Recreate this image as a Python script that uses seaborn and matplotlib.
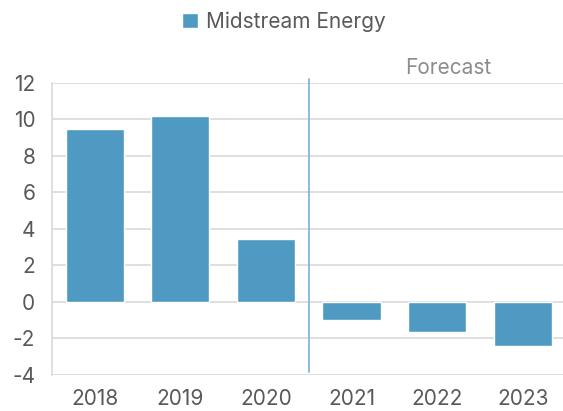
import matplotlib
matplotlib.use("Agg")
import matplotlib.pyplot as plt
import seaborn as sns
import pandas as pd

years = ["2018", "2019", "2020", "2021", "2022", "2023"]
growth = [9.5, 10.2, 3.45, -1.0, -1.65, -2.4]
series_name = "Midstream Energy"
yticks = [-4, -2, 0, 2, 4, 6, 8, 10, 12]

sns.set_style("white")
plt.rcParams["font.family"] = ["Inter", "DejaVu Sans"]
plt.rcParams["axes.unicode_minus"] = False

df = pd.DataFrame({"Year": years, "Value": growth, "Series": series_name})

fig = plt.figure(figsize=(5.63, 4.11), dpi=100)
ax = fig.add_axes([0.0924, 0.0876, 0.912, 0.7105])

bar_col = "#4f9ac2"
sns.barplot(data=df, x="Year", y="Value", hue="Series", palette=[bar_col],
            width=0.68, ax=ax, zorder=3, saturation=1)

ax.set_ylim(-4, 12)
ax.set_xlim(-0.5, 5.5)
ax.set_yticks(yticks)
ax.yaxis.grid(True, color="#d9d9d9", linewidth=1.2, zorder=0)
ax.set_axisbelow(True)
ax.set_xlabel("")
ax.set_ylabel("")

for s in ["top", "right", "bottom"]:
    ax.spines[s].set_visible(False)
ax.spines["left"].set_color("#d9d9d9")
ax.spines["left"].set_linewidth(1.2)

fs = 15
ax.tick_params(axis="y", length=7, width=1.2, color="#d9d9d9", labelsize=fs,
               labelcolor="#595959", pad=5)
ax.tick_params(axis="x", length=0, labelsize=fs, labelcolor="#595959", pad=10)

# forecast divider
ax.plot([2.5, 2.5], [-3.85, 12.2], color="#7fb8d8", linewidth=1.3, clip_on=False, zorder=4)
ax.text(4.13, 12.8, "Forecast", color="#8c8c8c", fontsize=fs, ha="center", va="center")

ax.legend_.remove()
handles, labels = ax.get_legend_handles_labels()
fig.legend(handles, labels, loc="center", bbox_to_anchor=(0.505, 0.947), frameon=False,
           fontsize=fs, handlelength=0.75, handleheight=0.75, handletextpad=0.4,
           labelcolor="#595959")

fig.savefig("out.png", dpi=100)
